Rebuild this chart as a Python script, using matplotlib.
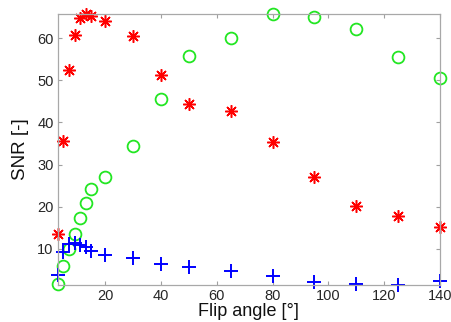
import matplotlib
matplotlib.use("Agg")
import matplotlib.pyplot as plt

flip = [3, 5, 7, 9, 11, 13, 15, 20, 30, 40, 50, 65, 80, 95, 110, 125, 140]
snr_red = [13.6, 35.7, 52.4, 60.7, 64.7, 65.6, 65.3, 64.0, 60.5, 51.2, 44.3, 42.6, 35.3, 27.0, 20.2, 17.9, 15.2]
snr_green = [1.6, 5.9, 10.0, 13.6, 17.3, 21.0, 24.1, 27.0, 34.5, 45.6, 55.7, 60.1, 65.7, 65.1, 62.1, 55.4, 50.5]
snr_blue = [3.8, 9.3, 11.1, 11.3, 10.9, 10.4, 9.4, 8.6, 7.8, 6.4, 5.8, 4.8, 3.6, 2.2, 1.6, 1.4, 2.4]

xticks = [20, 40, 60, 80, 100, 120, 140]
yticks = [10, 20, 30, 40, 50, 60]

plt.rcParams['font.family'] = ['Liberation Sans', 'DejaVu Sans']

fig = plt.figure(figsize=(4.52, 3.22), dpi=100)
ax = fig.add_axes([0.128, 0.115, 0.845, 0.842])

ax.plot(flip, snr_red, linestyle='none', marker=(8, 2, 0), markersize=9,
        markeredgecolor='#ff0000', markerfacecolor='#ff0000', markeredgewidth=1.1, clip_on=False)
ax.plot(flip, snr_green, linestyle='none', marker='o', markersize=8.5,
        markeredgecolor='#22e622', markerfacecolor='none', markeredgewidth=1.3, clip_on=False)
ax.plot(flip, snr_blue, linestyle='none', marker='+', markersize=10,
        markeredgecolor='#0000ff', markeredgewidth=1.4, clip_on=False)

ax.set_xlim(min(flip), max(flip))
ax.set_ylim(1.45, 65.75)
ax.set_xticks(xticks)
ax.set_yticks(yticks)
ax.tick_params(direction='in', length=3, width=0.8, colors='#a0a0a0',
               labelcolor='#262626', labelsize=10.5, top=True, right=True, pad=3)
for s in ax.spines.values():
    s.set_color('#a8a8a8')
    s.set_linewidth(0.9)

ax.set_xlabel('Flip angle [°]', fontsize=13, color='#111111', labelpad=0)
ax.set_ylabel('SNR [-]', fontsize=13.5, color='#111111', labelpad=6)

fig.savefig('out.png', dpi=100)
